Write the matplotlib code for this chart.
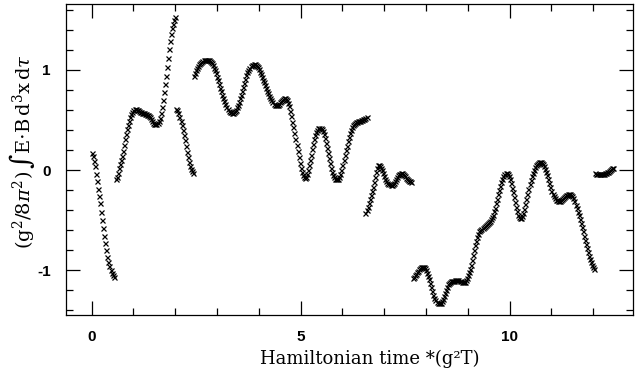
import numpy as np
import matplotlib
matplotlib.use("Agg")
import matplotlib.pyplot as plt
from matplotlib.ticker import MultipleLocator

plt.rcParams['axes.unicode_minus'] = False
plt.rcParams['mathtext.fontset'] = 'dejavuserif'

# sampling step of the Hamiltonian time
STEP = 0.025

# each segment: start time, then values
seg1_start = 0.0
seg1_vals = [0.17, 0.14, 0.09, 0.04, -0.04, -0.11, -0.19, -0.26, -0.33, -0.42,
             -0.50, -0.58, -0.66, -0.73, -0.80, -0.87, -0.92, -0.96, -1.00, -1.03,
             -1.05, -1.07]

seg2_start = 0.575
seg2_vals = [-0.09, -0.065, -0.03, 0.02, 0.065, 0.10, 0.14, 0.19, 0.25, 0.31,
             0.36, 0.41, 0.45, 0.49, 0.53, 0.56, 0.58, 0.60, 0.61, 0.61,
             0.605, 0.60, 0.59, 0.585, 0.58, 0.575, 0.57, 0.57, 0.565, 0.56,
             0.555, 0.55, 0.54, 0.53, 0.51, 0.49, 0.475, 0.465, 0.46, 0.46,
             0.47, 0.49, 0.52, 0.57, 0.63, 0.70, 0.78, 0.86, 0.94, 1.03,
             1.12, 1.21, 1.29, 1.36, 1.42, 1.46, 1.50, 1.53]

seg3_start = 2.025
seg3_vals = [0.61, 0.60, 0.57, 0.53, 0.49, 0.45, 0.40, 0.35, 0.30, 0.24,
             0.18, 0.13, 0.08, 0.04, 0.01, -0.01, -0.03]

seg4_start = 2.45
seg4_vals = [0.94, 0.97, 0.995, 1.02, 1.04, 1.055, 1.07, 1.08, 1.09, 1.095,
             1.10, 1.10, 1.10, 1.10, 1.095, 1.09, 1.08, 1.065, 1.045, 1.02,
             0.995, 0.965, 0.93, 0.895, 0.86, 0.82, 0.785, 0.75, 0.715, 0.685,
             0.655, 0.63, 0.61, 0.595, 0.585, 0.578, 0.575, 0.575, 0.58, 0.59,
             0.605, 0.625, 0.65, 0.68, 0.715, 0.75, 0.79, 0.83, 0.87, 0.91,
             0.945, 0.975, 1.00, 1.02, 1.035, 1.045, 1.052, 1.055, 1.055, 1.05,
             1.04, 1.025, 1.005, 0.98, 0.955, 0.93, 0.90, 0.875, 0.845, 0.82,
             0.79, 0.765, 0.74, 0.715, 0.695, 0.675, 0.66, 0.65, 0.645, 0.645,
             0.65, 0.66, 0.675, 0.69, 0.70, 0.71, 0.715, 0.715, 0.71, 0.695,
             0.67, 0.635, 0.59, 0.54, 0.485, 0.43, 0.37, 0.31, 0.25, 0.19,
             0.13, 0.075, 0.025, -0.02, -0.05, -0.07, -0.075, -0.065, -0.04, 0.0,
             0.05, 0.10, 0.155, 0.21, 0.26, 0.31, 0.35, 0.385, 0.405, 0.418,
             0.42, 0.42, 0.41, 0.39, 0.36, 0.32, 0.275, 0.225, 0.175, 0.12,
             0.07, 0.025, -0.015, -0.045, -0.07, -0.085, -0.09, -0.09, -0.085, -0.065,
             -0.035, 0.005, 0.05, 0.10, 0.15, 0.20, 0.245, 0.29, 0.33, 0.37,
             0.40, 0.43, 0.45, 0.465, 0.475, 0.48, 0.485, 0.488, 0.49, 0.495,
             0.50, 0.505, 0.51, 0.515, 0.525, 0.53]

seg5_start = 6.55
seg5_vals = [-0.43, -0.40, -0.365, -0.33, -0.29, -0.25, -0.21, -0.165, -0.12, -0.07,
             -0.02, 0.025, 0.05, 0.055, 0.045, 0.025, 0.0, -0.03, -0.06, -0.09,
             -0.11, -0.125, -0.135, -0.14, -0.145, -0.145, -0.14, -0.125, -0.105, -0.085,
             -0.065, -0.05, -0.04, -0.035, -0.03, -0.03, -0.035, -0.045, -0.06, -0.075,
             -0.09, -0.10, -0.105, -0.11, -0.115]

seg6_start = 7.675
seg6_vals = [-1.08, -1.07, -1.05, -1.035, -1.02, -1.005, -0.99, -0.98, -0.97, -0.965,
             -0.965, -0.97, -0.98, -1.00, -1.03, -1.06, -1.09, -1.13, -1.17, -1.21,
             -1.245, -1.275, -1.30, -1.315, -1.325, -1.33, -1.33, -1.325, -1.31, -1.285,
             -1.255, -1.225, -1.195, -1.165, -1.14, -1.125, -1.115, -1.11, -1.105, -1.105,
             -1.105, -1.10, -1.10, -1.10, -1.10, -1.105, -1.11, -1.115, -1.12, -1.12,
             -1.115, -1.10, -1.08,
             -1.05, -1.02, -0.985, -0.945, -0.90, -0.85, -0.80, -0.75, -0.705, -0.665,
             -0.635, -0.61, -0.595, -0.585, -0.575, -0.565, -0.555, -0.545, -0.535, -0.525,
             -0.515, -0.505, -0.49, -0.47, -0.445, -0.41, -0.375, -0.33, -0.285, -0.24,
             -0.195, -0.155, -0.115, -0.085, -0.06, -0.04, -0.03, -0.03, -0.04, -0.06,
             -0.09, -0.13, -0.175, -0.22, -0.27, -0.32, -0.37, -0.41, -0.445, -0.47,
             -0.48, -0.475, -0.455, -0.425, -0.385, -0.34, -0.29, -0.24, -0.19, -0.14,
             -0.10, -0.06, -0.025, 0.005, 0.03, 0.05, 0.065, 0.075, 0.082, 0.085,
             0.083, 0.075, 0.06, 0.04, 0.015, -0.015, -0.05, -0.09, -0.13, -0.17,
             -0.205, -0.235, -0.26, -0.28, -0.295, -0.303, -0.307, -0.307, -0.305, -0.30,
             -0.29, -0.28, -0.27, -0.26, -0.252, -0.246, -0.243, -0.242, -0.244, -0.25,
             -0.26, -0.28, -0.31, -0.345, -0.38, -0.415, -0.45, -0.49, -0.53, -0.57,
             -0.61, -0.655, -0.70, -0.74, -0.78, -0.82, -0.855, -0.89, -0.92, -0.945,
             -0.965, -0.985]

seg7_start = 12.05
seg7_vals = [-0.03, -0.035, -0.04, -0.04, -0.04, -0.04, -0.04, -0.04, -0.035, -0.03,
             -0.025, -0.02, -0.015, -0.01, 0.0, 0.01, 0.02, 0.025]

segments = [(seg1_start, seg1_vals), (seg2_start, seg2_vals), (seg3_start, seg3_vals),
            (seg4_start, seg4_vals), (seg5_start, seg5_vals), (seg6_start, seg6_vals),
            (seg7_start, seg7_vals)]

fig = plt.figure(figsize=(6.37, 3.80), dpi=100)
ax = fig.add_axes([0.1036, 0.171, 0.8901, 0.8185])

for start, vals in segments:
    t = start + STEP * np.arange(len(vals))
    ax.plot(t, vals, linestyle='none', marker='x', markersize=3.6, markeredgewidth=0.9,
            color='black')

ax.set_xlim(-0.615, 12.95)
ax.set_ylim(-1.45, 1.66)
ax.xaxis.set_major_locator(MultipleLocator(5))
ax.xaxis.set_minor_locator(MultipleLocator(1))
ax.yaxis.set_major_locator(MultipleLocator(1))
ax.yaxis.set_minor_locator(MultipleLocator(0.2))
ax.tick_params(which='both', direction='in', top=True, right=True, width=0.9)
ax.tick_params(which='major', length=10, pad=11)
ax.tick_params(which='minor', length=5)
for lab in ax.get_xticklabels() + ax.get_yticklabels():
    lab.set_fontfamily('Liberation Sans')
    lab.set_fontweight('bold')
    lab.set_fontsize(11)
for sp in ax.spines.values():
    sp.set_linewidth(0.9)

ax.set_xlabel("Hamiltonian time *(g\u00b2T)", family='DejaVu Serif', fontsize=13)
ax.set_ylabel(r"$(\mathrm{g}^2/8\pi^2)\,\int\mathrm{E}{\cdot}\mathrm{B}\,\mathrm{d}^3\mathrm{x}\,\mathrm{d}\tau$",
              fontsize=14)
ax.xaxis.set_label_coords(0.536, -0.113)
ax.yaxis.set_label_coords(-0.052, 0.527)

fig.savefig("out.png", dpi=100)
